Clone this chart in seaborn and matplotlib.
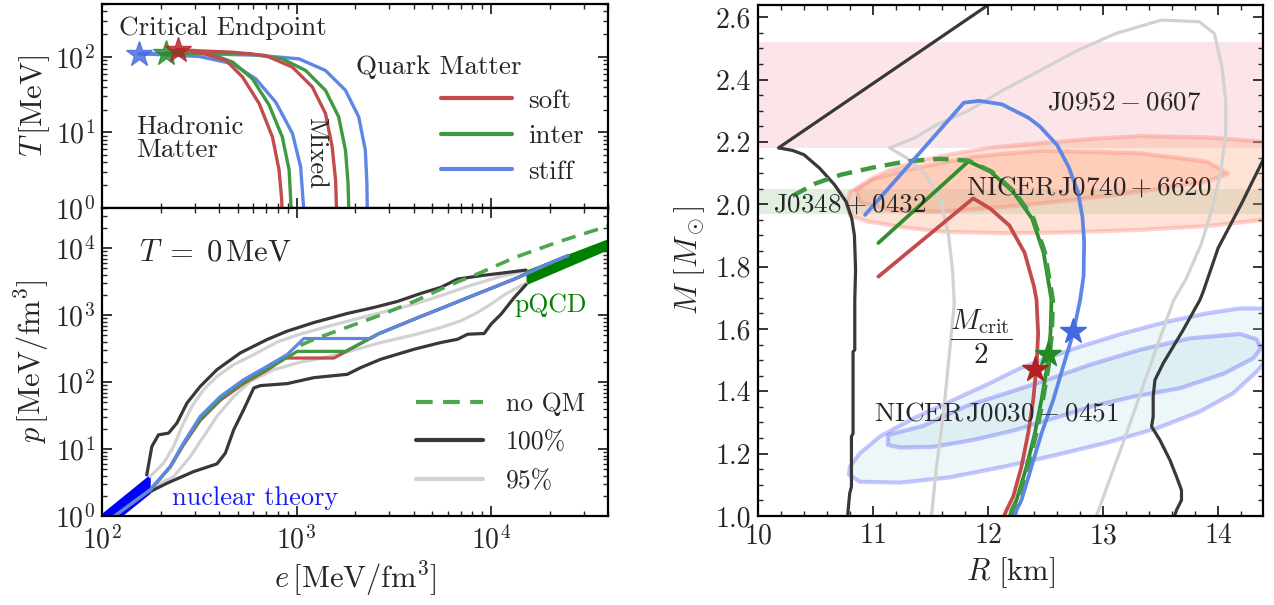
import matplotlib
matplotlib.use("Agg")
import numpy as np
import matplotlib.pyplot as plt
import seaborn as sns
from matplotlib.lines import Line2D
from matplotlib.ticker import MultipleLocator, LogLocator, NullFormatter, FormatStrFormatter

sns.set_style("ticks")
plt.rcParams.update({
    "font.family": "serif",
    "font.serif": ["cmr10"],
    "mathtext.fontset": "cm",
    "axes.formatter.use_mathtext": True,
    "axes.unicode_minus": False,
})

RED, GREEN, BLUE = "#c44b4b", "#3e9a3e", "#5f86e6"
STAR_RED, STAR_GREEN, STAR_BLUE = "#b22222", "#228b22", "#4169e1"
DARK, GREY = "#383838", "#d2d2d2"

# ---------------- phase boundaries T(e) ----------------
e_cep = [245, 214, 155]          # soft, inter, stiff
T_cep = [125, 112, 110]

e_soft_had = [245, 316, 435, 528, 643, 752, 813, 839, 843]
T_soft_had = [125, 115, 89, 54, 24, 8.7, 3.2, 1.3, 0.9]
e_soft_qm = [245, 316, 470, 695, 953, 1205, 1409, 1524, 1589, 1607]
T_soft_qm = [125, 120, 115, 104, 73, 40, 17.8, 6.5, 2.3, 0.9]

e_inter_had = [214, 356, 470, 594, 723, 845, 916, 940]
T_inter_had = [112, 111, 85, 51, 23, 8.7, 3.2, 0.9]
e_inter_qm = [214, 400, 571, 845, 1114, 1409, 1648, 1786, 1841, 1858]
T_inter_qm = [112, 112, 110, 94, 66, 36, 16, 5.8, 2.1, 0.9]

e_stiff_had = [155, 317, 470, 618, 783, 953, 1050, 1091]
T_stiff_had = [110, 101, 81, 51, 25, 9.7, 3.5, 0.9]
e_stiff_qm = [155, 316, 631, 1030, 1409, 1786, 2089, 2259, 2301, 2312]
T_stiff_qm = [110, 110, 105, 94, 66, 36, 16, 5.8, 2.1, 0.9]

# ---------------- T = 0 equations of state p(e) ----------------
e_stiff = [110, 177, 224, 262, 320, 406, 535, 706, 895, 1091, 2404, 2630, 4027, 5984, 8872, 13183, 19588, 24831]
p_stiff = [0.89, 2.46, 5.48, 12.3, 30.8, 61.2, 108.9, 172.6, 258.2, 448.7, 448.7, 524.8, 873, 1384, 2193, 3467, 5821, 7762]
e_inter = [110, 177, 224, 262, 320, 406, 535, 706, 895, 1009, 1791, 2630, 4027, 5984, 8872, 13183, 19588, 24831]
p_inter = [0.89, 2.46, 5.43, 11.75, 28.2, 56.2, 100, 158.5, 234.4, 288.4, 288.4, 524.8, 873, 1384, 2193, 3467, 5821, 7762]
e_soft = [110, 177, 224, 262, 320, 406, 535, 706, 877, 1556, 2630, 4027, 5984, 8872, 13183, 19588, 24831]
p_soft = [0.89, 2.46, 5.37, 11.48, 26.9, 53.7, 95.5, 151.4, 229.1, 229.1, 524.8, 873, 1384, 2193, 3467, 5821, 7762]

e_noqm = [1047, 1230, 1820, 2692, 3981, 5623, 6761, 8913, 13183, 22387, 40738]
p_noqm = [354.8, 436.5, 660.7, 1000, 1585, 2512, 3162, 4365, 7244, 12589, 21878]

e_env_hi = [169.8, 180.3, 195.0, 219.8, 242.7, 273.5, 319.9, 389.9, 514.0, 706.3, 891.3, 1227, 1824, 2500, 3304, 4355, 5521, 6730, 8872, 12190, 15136]
p_env_hi = [4.11, 10.9, 16.3, 17.3, 24.5, 48.8, 86.5, 153.8, 273.5, 433.5, 575.4, 776.2, 1062, 1306, 1607, 2118, 2606, 3467, 3899, 4365, 4732]
e_env_lo = [176.6, 215.3, 295.8, 389.9, 430.5, 475.3, 534.6, 602.6, 651.6, 895.4, 1227, 1824, 2138, 2710, 4027, 5521, 6730, 7586, 9226, 10000, 11272, 13183, 15136]
p_env_lo = [2.31, 3.08, 4.61, 6.01, 8.69, 19.4, 38.7, 81.8, 88.7, 95.1, 116.7, 130.9, 164.8, 219.8, 310.5, 390.8, 437.5, 520.0, 533.3, 734.5, 1038, 1845, 2858]

e_95_hi = [176.6, 207.0, 233.3, 257.6, 289.7, 332.7, 389.9, 475.3, 602.6, 796.2, 1050, 1439, 1995, 2818, 3981, 5623, 7943, 11220, 15136]
p_95_hi = [3.88, 6.15, 10.9, 21.8, 43.4, 77.3, 122.2, 182.8, 258.2, 398, 525, 676, 871, 1122, 1445, 1995, 2818, 3802, 4571]
e_95_lo = [184.1, 233.3, 284.4, 332.7, 389.9, 475.3, 579.4, 763.8, 1050, 1259, 1820, 2710, 4027, 5521, 6998, 8531, 10000, 11722, 13740, 15136]
p_95_lo = [2.75, 3.88, 7.73, 15.4, 30.8, 61.2, 102.8, 153.8, 199.5, 218.8, 281.8, 390.8, 509.3, 654.6, 826.0, 1099, 1466, 2023, 2606, 2992]

e_nuc = [100, 177]
p_nuc_lo = [0.58, 2.19]
p_nuc_hi = [1.11, 4.26]

e_pqcd = [15136, 40738]
p_pqcd_lo = [2858, 9770]
p_pqcd_hi = [4732, 14260]

# ---------------- mass-radius ----------------
R_soft = [11.046, 11.87, 12.02, 12.185, 12.317, 12.399, 12.421, 12.435, 12.421, 12.392, 12.348, 12.290, 12.218, 12.160, 12.14]
M_soft = [1.768, 2.019, 1.986, 1.932, 1.845, 1.737, 1.693, 1.586, 1.479, 1.372, 1.265, 1.158, 1.062, 1.019, 1.0]
R_inter = [11.046, 11.83, 12.02, 12.218, 12.383, 12.482, 12.531, 12.551, 12.542, 12.513, 12.464, 12.406, 12.334, 12.247, 12.203, 12.19]
M_inter = [1.876, 2.138, 2.105, 2.040, 1.954, 1.845, 1.737, 1.693, 1.586, 1.479, 1.372, 1.265, 1.158, 1.051, 1.019, 1.0]
R_stiff = [10.93, 11.789, 11.921, 12.119, 12.35, 12.45, 12.60, 12.70, 12.78, 12.82, 12.835, 12.83, 12.80, 12.739, 12.652, 12.566, 12.464, 12.377, 12.290, 12.247, 12.235]
M_stiff = [1.966, 2.326, 2.332, 2.321, 2.278, 2.25, 2.19, 2.12, 2.04, 1.96, 1.88, 1.77, 1.693, 1.586, 1.479, 1.372, 1.265, 1.158, 1.051, 1.019, 1.0]
R_noqm = [10.30, 10.50, 10.72, 11.0, 11.29, 11.58, 11.83, 12.03, 12.23, 12.395, 12.494, 12.543, 12.563, 12.554, 12.525, 12.476, 12.418, 12.346, 12.259, 12.215, 12.2]
M_noqm = [2.027, 2.067, 2.095, 2.118, 2.138, 2.146, 2.140, 2.105, 2.040, 1.954, 1.845, 1.737, 1.693, 1.586, 1.479, 1.372, 1.265, 1.158, 1.051, 1.019, 1.0]

R_crit = [12.41, 12.52, 12.74]
M_crit = [1.472, 1.52, 1.595]

R_mr100_l = [12.05, 10.178, 10.30, 10.40, 10.535, 10.667, 10.766, 10.815, 10.838, 10.848, 10.841, 10.841, 10.826, 10.826, 10.812, 10.812, 10.797, 10.783, 10.78]
M_mr100_l = [2.652, 2.181, 2.173, 2.159, 2.116, 2.062, 2.008, 1.954, 1.900, 1.791, 1.693, 1.533, 1.527, 1.265, 1.255, 1.094, 1.073, 1.019, 1.0]
R_mr100_r = [14.45, 14.39, 14.20, 14.0, 13.87, 13.841, 13.696, 13.522, 13.450, 13.435, 13.435, 13.421, 13.493, 13.580, 13.638, 13.681, 13.681, 13.638, 13.62]
M_mr100_r = [2.20, 2.142, 2.0, 1.86, 1.72, 1.693, 1.597, 1.490, 1.436, 1.383, 1.319, 1.287, 1.244, 1.180, 1.126, 1.083, 1.051, 1.019, 1.0]

R_mr95 = [11.508, 11.551, 11.609, 11.667, 11.706, 11.690, 11.657, 11.591, 11.459, 11.294, 11.145, 11.360, 11.558, 11.822, 12.119, 12.449, 12.779, 13.109, 13.505, 13.835, 13.967, 14.033, 14.066, 14.066, 14.02, 13.95, 13.85, 13.72, 13.61, 13.406, 13.203, 12.971, 12.94]
M_mr95 = [1.0, 1.158, 1.319, 1.533, 1.683, 1.791, 1.899, 2.008, 2.094, 2.148, 2.181, 2.213, 2.256, 2.299, 2.364, 2.429, 2.494, 2.548, 2.591, 2.586, 2.548, 2.44, 2.332, 2.224, 2.10, 1.99, 1.87, 1.76, 1.69, 1.479, 1.265, 1.03, 1.0]

M_J0952 = [2.18, 2.52]
M_J0348 = [1.97, 2.05]

R_J0740_95 = [10.77, 10.80, 11.0, 11.145, 11.40, 11.725, 12.05, 12.45, 12.9, 13.319, 13.899, 14.392, 14.62, 14.62, 14.392, 13.9, 13.319, 12.7, 12.16, 11.6, 11.29, 10.95, 10.80]
M_J0740_95 = [2.00, 2.04, 2.085, 2.110, 2.140, 2.164, 2.183, 2.196, 2.210, 2.219, 2.215, 2.201, 2.196, 1.955, 1.950, 1.930, 1.918, 1.910, 1.907, 1.912, 1.925, 1.945, 1.965]
R_J0740_68 = [10.855, 11.0, 11.29, 11.87, 12.45, 13.319, 13.899, 14.087, 13.899, 13.319, 12.739, 12.16, 11.58, 11.145, 10.884]
M_J0740_68 = [2.046, 2.08, 2.110, 2.153, 2.172, 2.164, 2.137, 2.099, 2.073, 2.041, 2.014, 1.992, 1.976, 1.982, 2.008]

R_J0030_95 = [10.792, 10.884, 11.232, 11.667, 12.160, 12.594, 13.029, 13.464, 13.841, 14.131, 14.334, 14.45, 14.45, 14.189, 13.899, 13.551, 13.174, 12.797, 12.508, 12.276, 12.015, 11.667, 11.348, 11.058, 10.884, 10.797]
M_J0030_95 = [1.132, 1.110, 1.107, 1.124, 1.160, 1.196, 1.235, 1.281, 1.335, 1.394, 1.463, 1.511, 1.666, 1.666, 1.650, 1.623, 1.586, 1.543, 1.506, 1.474, 1.426, 1.367, 1.313, 1.255, 1.201, 1.158]
R_J0030_68 = [11.131, 11.131, 11.435, 11.812, 12.160, 12.508, 12.884, 13.319, 13.754, 14.189, 14.334, 14.369, 14.305, 14.044, 13.667, 13.261, 12.913, 12.566, 12.218, 11.870, 11.522, 11.232]
M_J0030_68 = [1.228, 1.260, 1.289, 1.353, 1.394, 1.436, 1.485, 1.533, 1.570, 1.584, 1.567, 1.538, 1.506, 1.456, 1.410, 1.383, 1.353, 1.313, 1.274, 1.244, 1.222, 1.220]


def curve(ax, x, y, **kw):
    sns.lineplot(x=x, y=y, sort=False, estimator=None, ax=ax, legend=False, **kw)


def closed(xs, ys):
    return list(xs) + [xs[0]], list(ys) + [ys[0]]


def style_axes(ax):
    ax.tick_params(which="both", direction="in", top=True, right=True, labelsize=20, pad=5)
    ax.tick_params(which="major", length=7, width=1.3)
    ax.tick_params(which="minor", length=3.5, width=1.0)
    for s in ax.spines.values():
        s.set_linewidth(1.6)
        s.set_color("black")


def log_minor(axis):
    axis.set_minor_locator(LogLocator(base=10, subs=np.arange(2, 10), numticks=30))
    axis.set_minor_formatter(NullFormatter())


fig = plt.figure(figsize=(12.74, 6.05), dpi=100)
ax_T = fig.add_axes([0.0801, 0.6562, 0.3972, 0.3372])
ax_p = fig.add_axes([0.0801, 0.1471, 0.3972, 0.5091], sharex=ax_T)
ax_mr = fig.add_axes([0.595, 0.1471, 0.3964, 0.8449])

# ---- phase diagram ----
ax_T.set_xscale("log")
ax_T.set_yscale("log")
ax_T.set_xlim(1e2, 4e4)
ax_T.set_ylim(1, 500)
LW = 2.4
for (eh, Th, eq, Tq, c) in [
    (e_stiff_had, T_stiff_had, e_stiff_qm, T_stiff_qm, BLUE),
    (e_inter_had, T_inter_had, e_inter_qm, T_inter_qm, GREEN),
    (e_soft_had, T_soft_had, e_soft_qm, T_soft_qm, RED),
]:
    curve(ax_T, eh, Th, color=c, lw=LW)
    curve(ax_T, eq, Tq, color=c, lw=LW)
for e0, T0, c in zip(e_cep[::-1], T_cep[::-1], [STAR_BLUE, STAR_GREEN, STAR_RED]):
    ax_T.plot([e0], [T0], marker="*", ms=19, color=c, alpha=0.8, ls="none", zorder=5)

ax_T.text(420, 240, "Critical Endpoint", fontsize=19.5, ha="center", va="center")
ax_T.text(5400, 72, "Quark Matter", fontsize=19.5, ha="center", va="center")
ax_T.text(150, 8.3, "Hadronic\nMatter", fontsize=19.5, ha="left", va="center", linespacing=1.0)
ax_T.text(1253, 5.3, "Mixed", fontsize=19, ha="center", va="center", rotation=270)
ax_T.set_ylabel(r"$T\,[\mathrm{MeV}]$", fontsize=22, labelpad=2)
style_axes(ax_T)
log_minor(ax_T.xaxis)
log_minor(ax_T.yaxis)
ax_T.yaxis.set_major_locator(LogLocator(base=10, numticks=10))
ax_T.tick_params(labelbottom=False)
ax_T.legend(
    handles=[Line2D([], [], color=RED, lw=3), Line2D([], [], color=GREEN, lw=3), Line2D([], [], color=BLUE, lw=3)],
    labels=["soft", "inter", "stiff"], loc="lower right", bbox_to_anchor=(1.0, 0.0),
    frameon=False, fontsize=19.5, handlelength=2.6, labelspacing=0.42, handletextpad=0.6)

# ---- equation of state ----
ax_p.set_yscale("log")
ax_p.set_ylim(1, 4e4)
ax_p.fill_between(e_nuc, p_nuc_lo, p_nuc_hi, color="#0000ff", lw=0, zorder=1)
ax_p.fill_between(e_pqcd, p_pqcd_lo, p_pqcd_hi, color="#008000", lw=0, zorder=1)
curve(ax_p, e_95_hi, p_95_hi, color=GREY, lw=2.3)
curve(ax_p, e_95_lo, p_95_lo, color=GREY, lw=2.3)
curve(ax_p, e_env_hi, p_env_hi, color=DARK, lw=2.3)
curve(ax_p, e_env_lo, p_env_lo, color=DARK, lw=2.3)
curve(ax_p, e_soft, p_soft, color=RED, lw=2.3)
curve(ax_p, e_inter, p_inter, color=GREEN, lw=2.3)
curve(ax_p, e_stiff, p_stiff, color=BLUE, lw=2.3)
curve(ax_p, e_noqm, p_noqm, color="#4ea64e", lw=2.6, linestyle=(0, (4, 2.5)))
ax_p.text(155, 8700, r"$T\;=\;0\,\mathrm{MeV}$", fontsize=22, ha="left", va="center")
ax_p.text(13150, 1400, "pQCD", fontsize=18.5, color="#008000", ha="left", va="center")
ax_p.text(229, 1.86, "nuclear theory", fontsize=19, color="#1a1aff", ha="left", va="center")
ax_p.set_xlabel(r"$e\,[\mathrm{MeV/fm^3}]$", fontsize=22, labelpad=4)
ax_p.set_ylabel(r"$p\,[\mathrm{MeV/fm^3}]$", fontsize=22, labelpad=2)
style_axes(ax_p)
ax_p.tick_params(axis="x", pad=7)
log_minor(ax_p.xaxis)
log_minor(ax_p.yaxis)
ax_p.yaxis.set_major_locator(LogLocator(base=10, numticks=10))
ax_p.xaxis.set_major_locator(LogLocator(base=10, numticks=10))
ax_p.legend(
    handles=[Line2D([], [], color="#4ea64e", lw=3, linestyle=(0, (4, 2.5))),
             Line2D([], [], color=DARK, lw=3), Line2D([], [], color=GREY, lw=3)],
    labels=["no QM", "100%", "95%"], loc="lower right", bbox_to_anchor=(1.0, 0.0),
    frameon=False, fontsize=18.5, handlelength=2.6, labelspacing=0.58, handletextpad=0.9)

# ---- mass-radius ----
ax_mr.set_xlim(10, 14.39)
ax_mr.set_ylim(1.0, 2.64)
ax_mr.axhspan(M_J0952[0], M_J0952[1], color="crimson", alpha=0.11, lw=0, zorder=0)
ax_mr.axhspan(M_J0348[0], M_J0348[1], color="green", alpha=0.12, lw=0, zorder=0)
for R_, M_ in [(R_J0740_95, M_J0740_95), (R_J0740_68, M_J0740_68)]:
    xs, ys = closed(R_, M_)
    ax_mr.fill(xs, ys, facecolor="#ffa07a", alpha=0.3, lw=0, zorder=1)
    ax_mr.plot(xs, ys, color="salmon", alpha=0.35, lw=3, zorder=1)
for R_, M_ in [(R_J0030_95, M_J0030_95), (R_J0030_68, M_J0030_68)]:
    xs, ys = closed(R_, M_)
    ax_mr.fill(xs, ys, facecolor="lightblue", alpha=0.22, lw=0, zorder=1)
    ax_mr.plot(xs, ys, color="blue", alpha=0.22, lw=3, zorder=1)
curve(ax_mr, R_mr95, M_mr95, color=GREY, lw=2.3)
curve(ax_mr, R_mr100_l, M_mr100_l, color=DARK, lw=2.3)
curve(ax_mr, R_mr100_r, M_mr100_r, color=DARK, lw=2.3)
curve(ax_mr, R_soft, M_soft, color=RED, lw=2.7)
curve(ax_mr, R_inter, M_inter, color="#2f8f2f", lw=2.7)
curve(ax_mr, R_noqm, M_noqm, color="#3e9a3e", lw=3.2, linestyle=(0, (3.5, 2)))
curve(ax_mr, R_stiff, M_stiff, color=BLUE, lw=2.7)
for r0, m0, c in zip(R_crit, M_crit, [STAR_RED, STAR_GREEN, STAR_BLUE]):
    ax_mr.plot([r0], [m0], marker="*", ms=19, color=c, ls="none", zorder=6)
ax_mr.text(13.18, 2.327, r"$\mathrm{J0952-0607}$", fontsize=19.5, ha="center", va="center")
ax_mr.text(12.875, 2.055, r"$\mathrm{NICER\,J0740+6620}$", fontsize=19.5, ha="center", va="center")
ax_mr.text(10.8, 2.0, r"$\mathrm{J0348+0432}$", fontsize=19.5, ha="center", va="center")
ax_mr.text(12.075, 1.329, r"$\mathrm{NICER\,J0030-0451}$", fontsize=19.5, ha="center", va="center")
ax_mr.text(11.94, 1.575, r"$\dfrac{M_{\rm crit}}{2}$", fontsize=21, ha="center", va="center")
ax_mr.set_xlabel(r"$R\ [\mathrm{km}]$", fontsize=22, labelpad=4)
ax_mr.set_ylabel(r"$M\ [M_\odot]$", fontsize=22, labelpad=6)
style_axes(ax_mr)
ax_mr.xaxis.set_major_locator(MultipleLocator(1))
ax_mr.xaxis.set_minor_locator(MultipleLocator(0.2))
ax_mr.yaxis.set_major_locator(MultipleLocator(0.2))
ax_mr.yaxis.set_minor_locator(MultipleLocator(0.05))
ax_mr.yaxis.set_major_formatter(FormatStrFormatter("%.1f"))

fig.savefig("out.png", dpi=100)
